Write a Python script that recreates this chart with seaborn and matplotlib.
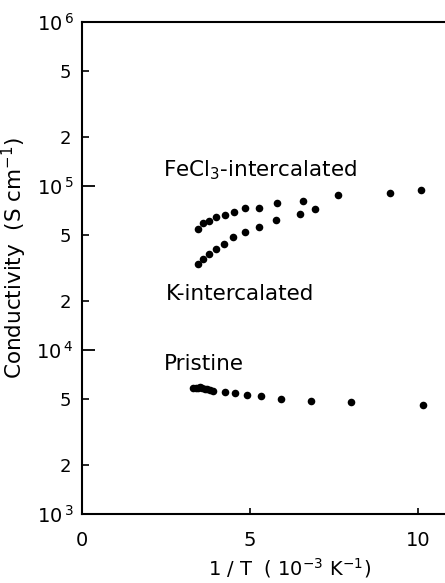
import numpy as np
import pandas as pd
import matplotlib
matplotlib.use("Agg")
import matplotlib.pyplot as plt
import seaborn as sns

# conductivity vs 1/T
fecl3_x = [3.44, 3.59, 3.78, 3.99, 4.26, 4.52, 4.86, 5.27, 5.81, 6.57, 7.62, 9.17, 10.08]
fecl3_y = [54500, 59200, 61500, 64400, 66800, 69700, 73800, 73800, 78800, 81000, 88000, 90600, 94200]

k_x = [3.46, 3.59, 3.78, 3.99, 4.24, 4.50, 4.86, 5.27, 5.78, 6.49, 6.93]
k_y = [33300, 35700, 38500, 41300, 44300, 48700, 52600, 56000, 62000, 67800, 72700]

pristine_x = [3.31, 3.38, 3.45, 3.51, 3.58, 3.65, 3.71, 3.81, 3.91, 4.26, 4.55, 4.90, 5.33, 5.92, 6.80, 8.01, 10.16]
pristine_y = [5840, 5870, 5900, 5920, 5860, 5800, 5760, 5700, 5620, 5520, 5440, 5320, 5240, 5020, 4890, 4820, 4630]

df = pd.concat([
    pd.DataFrame({"x": fecl3_x, "y": fecl3_y, "s": "FeCl3"}),
    pd.DataFrame({"x": k_x, "y": k_y, "s": "K"}),
    pd.DataFrame({"x": pristine_x, "y": pristine_y, "s": "Pristine"}),
])

sns.set_style("ticks")
plt.rcParams["font.family"] = ["DejaVu Sans"]
plt.rcParams["mathtext.default"] = "regular"
plt.rcParams["text.color"] = "black"
plt.rcParams["axes.labelcolor"] = "black"
plt.rcParams["xtick.color"] = "black"
plt.rcParams["ytick.color"] = "black"
plt.rcParams["axes.edgecolor"] = "black"

fig = plt.figure(figsize=(4.45, 5.83), dpi=100)
ax = fig.add_axes([0.184, 0.1184, 0.816, 0.8439])

sns.scatterplot(data=df, x="x", y="y", color="black", s=30, edgecolor="black",
                linewidth=0, legend=False, ax=ax)

ax.set_yscale("log")
ax.set_ylim(1e3, 1e6)
ax.set_xlim(0, 10.8)

for side in ["left", "bottom", "top"]:
    ax.spines[side].set_linewidth(1.5)
ax.spines["right"].set_visible(False)

# y ticks
ax.set_yticks([1e3, 1e4, 1e5, 1e6])
ax.set_yticklabels(["$10^{\\,3}$", "$10^{\\,4}$", "$10^{\\,5}$", "$10^{\\,6}$"])
minor = [2e3, 5e3, 2e4, 5e4, 2e5, 5e5]
ax.set_yticks(minor, minor=True)
ax.set_yticklabels(["2", "5", "2", "5", "2", "5"], minor=True)
ax.tick_params(axis="y", which="major", direction="in", length=9, width=1.3,
               labelsize=14, pad=6)
ax.tick_params(axis="y", which="minor", direction="in", length=5, width=1.2,
               labelsize=13, pad=8)

# x ticks
ax.set_xticks([0, 5, 10])
ax.set_xticks([], minor=True)
ax.tick_params(axis="x", which="major", direction="in", length=4, width=1.2,
               labelsize=14, pad=12)

ax.set_xlabel("1 / T  ( $10^{-3}$ K$^{-1}$)", fontsize=14)
ax.xaxis.set_label_coords(0.573, -0.085)
ax.set_ylabel("Conductivity  (S cm$^{-1}$)", fontsize=15.5)
ax.yaxis.set_label_coords(-0.146, 0.52)

ax.text(2.4, 1.14e5, "FeCl$_3$-intercalated", fontsize=15.5, va="baseline")
ax.text(2.5, 2.02e4, "K-intercalated", fontsize=15.5, va="baseline")
ax.text(2.45, 7.5e3, "Pristine", fontsize=15.5, va="baseline")

fig.savefig("out.png", dpi=100)
